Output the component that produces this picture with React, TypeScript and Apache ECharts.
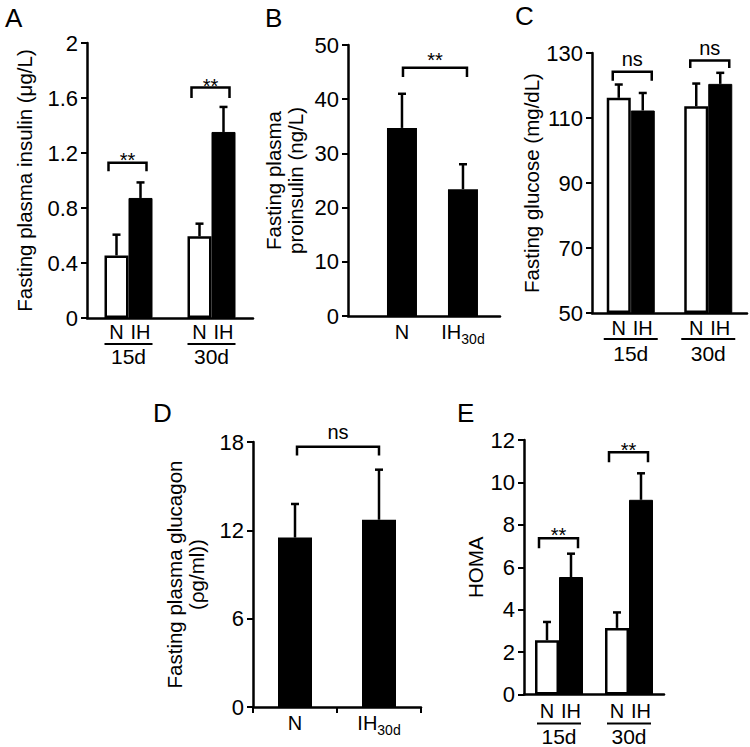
import React, { useEffect, useRef } from 'react';
import * as echarts from 'echarts';

const FONT = '"Liberation Sans", Arial, Helvetica, sans-serif';

// ---------- shared categories ----------
const periods = ['15d', '30d'];
const groupNames = ['N', 'IH'];

// ---------- Panel A: fasting plasma insulin (µg/L) ----------
const insulinN = [0.455, 0.594];
const insulinNUpper = [0.606, 0.686];
const insulinIH = [0.873, 1.353];
const insulinIHUpper = [0.986, 1.535];
const insulinSig = ['**', '**'];
const insulinSigTop = [1.13, 1.677];
const insulinSigLeg = [1.067, 1.6];
const insulinSigText = [1.151, 1.684];

// ---------- Panel B: fasting plasma proinsulin (ng/L) ----------
const proCats = ['N', 'IH30d'];
const proMean = [34.7, 23.4];
const proUpper = [41.0, 28.0];
const proSig = ['**'];
const proSigTop = [45.8];
const proSigLeg = [44.1];
const proSigText = [47.2];

// ---------- Panel C: fasting glucose (mg/dL) ----------
const glucoseN = [116.2, 113.6];
const glucoseNUpper = [120.3, 120.6];
const glucoseIH = [112.3, 120.5];
const glucoseIHUpper = [117.7, 123.9];
const glucoseSig = ['ns', 'ns'];
const glucoseSigTop = [124.2, 127.7];
const glucoseSigLeg = [121.5, 125.4];
const glucoseSigText = [128.1, 131.6];

// ---------- Panel D: fasting plasma glucagon (pg/ml) ----------
const glucagonCats = ['N', 'IH30d'];
const glucagonMean = [11.51, 12.72];
const glucagonUpper = [13.79, 16.12];
const glucagonSig = ['ns'];
const glucagonSigTop = [17.67];
const glucagonSigLeg = [17.08];
const glucagonSigText = [18.68];

// ---------- Panel E: HOMA ----------
const homaN = [2.56, 3.14];
const homaNUpper = [3.42, 3.87];
const homaIH = [5.54, 9.18];
const homaIHUpper = [6.64, 10.43];
const homaSig = ['**', '**'];
const homaSigTop = [7.37, 11.42];
const homaSigLeg = [6.9, 10.95];
const homaSigText = [7.53, 11.55];

// ---------- helpers ----------
const subFmt = (name: string) => {
  const m = /^(\D+)(\d+d)$/.exec(name);
  return m ? `{m|${m[1]}}{s|${m[2]}}` : `{m|${name}}`;
};
const subRich = {
  m: { fontSize: 20, lineHeight: 21, verticalAlign: 'top', fontFamily: FONT, color: '#000' },
  s: { fontSize: 14, lineHeight: 14, padding: [10, 0, 0, 0], verticalAlign: 'top', fontFamily: FONT, color: '#000' },
};

function yAxisFor(gridIndex: number, min: number, max: number, interval: number, name: string, nameGap: number) {
  return {
    type: 'value',
    gridIndex,
    min,
    max,
    interval,
    startValue: min,
    name,
    nameLocation: 'middle',
    nameGap,
    nameRotate: 90,
    nameTextStyle: { fontSize: 20.5, color: '#000', fontFamily: FONT, lineHeight: 22 },
    axisLine: { show: true, onZero: false, lineStyle: { color: '#000', width: 2.5 } },
    axisTick: { show: true, length: 6, lineStyle: { color: '#000', width: 2 } },
    axisLabel: { fontSize: 22, color: '#000', fontFamily: FONT, margin: 9 },
    splitLine: { show: false },
  };
}

function groupXAxis(gridIndex: number, margin: number, lineH: number, ulWidth: number) {
  return {
    type: 'category',
    gridIndex,
    data: periods,
    axisLine: { onZero: false, lineStyle: { color: '#000', width: 2.5 } },
    axisTick: { show: false },
    axisLabel: {
      interval: 0,
      margin,
      formatter: (v: string) => `{u|}\n{t|${v}}`,
      rich: {
        u: { width: ulWidth, height: 2, lineHeight: 2, backgroundColor: '#000' },
        t: { fontSize: 21, lineHeight: lineH, color: '#000', fontFamily: FONT },
      },
    },
    splitLine: { show: false },
  };
}

function groupBars(axisIndex: number, nVals: number[], ihVals: number[], labelDist: number, barWidth: number) {
  const lbl = {
    show: true,
    position: 'bottom',
    distance: labelDist,
    formatter: '{a}',
    fontSize: 20,
    lineHeight: 20,
    color: '#000',
    fontFamily: FONT,
  };
  return [
    {
      type: 'bar',
      name: groupNames[0],
      xAxisIndex: axisIndex,
      yAxisIndex: axisIndex,
      data: nVals,
      barWidth,
      barGap: '0%',
      itemStyle: { color: '#fff', borderColor: '#000', borderWidth: 2.5 },
      label: lbl,
      silent: true,
    },
    {
      type: 'bar',
      name: groupNames[1],
      xAxisIndex: axisIndex,
      yAxisIndex: axisIndex,
      data: ihVals,
      barWidth,
      barGap: '0%',
      itemStyle: { color: '#000', borderColor: '#000', borderWidth: 1 },
      label: lbl,
      silent: true,
    },
  ];
}

function errorSeries(axisIndex: number, means: number[], uppers: number[], offset: number) {
  return {
    type: 'custom',
    xAxisIndex: axisIndex,
    yAxisIndex: axisIndex,
    data: means.map((m, i) => [i, m, uppers[i]]),
    encode: { x: 0, y: [1, 2] },
    z: 5,
    silent: true,
    renderItem: (params: any, api: any) => {
      const base = api.coord([api.value(0), api.value(1)]);
      const top = api.coord([api.value(0), api.value(2)]);
      const x = base[0] + offset;
      return {
        type: 'group',
        children: [
          { type: 'line', shape: { x1: x, y1: base[1], x2: x, y2: top[1] }, style: { stroke: '#000', lineWidth: 2.5 } },
          { type: 'line', shape: { x1: x - 4, y1: top[1], x2: x + 4, y2: top[1] }, style: { stroke: '#000', lineWidth: 2.5 } },
        ],
      };
    },
  };
}

function sigSeries(
  axisIndex: number,
  starts: number[],
  ends: number[],
  tops: number[],
  legs: number[],
  textYs: number[],
  labels: string[],
  offA: number,
  offB: number,
) {
  return {
    type: 'custom',
    xAxisIndex: axisIndex,
    yAxisIndex: axisIndex,
    data: labels.map((_, i) => [starts[i], ends[i], tops[i], legs[i], textYs[i]]),
    encode: { x: [0, 1], y: [2, 3, 4] },
    z: 5,
    silent: true,
    renderItem: (params: any, api: any) => {
      const pa = api.coord([api.value(0), api.value(2)]);
      const pb = api.coord([api.value(1), api.value(2)]);
      const yl = api.coord([api.value(0), api.value(3)])[1];
      const ty = api.coord([api.value(0), api.value(4)])[1];
      const xa = pa[0] + offA;
      const xb = pb[0] + offB;
      const yt = pa[1];
      return {
        type: 'group',
        children: [
          {
            type: 'polyline',
            shape: { points: [[xa, yl], [xa, yt], [xb, yt], [xb, yl]] },
            style: { stroke: '#000', lineWidth: 2.5, fill: 'none' },
          },
          {
            type: 'text',
            x: (xa + xb) / 2,
            y: ty,
            style: {
              text: labels[params.dataIndex],
              fontSize: 20,
              fontFamily: FONT,
              fill: '#000',
              align: 'center',
              verticalAlign: 'middle',
            },
          },
        ],
      };
    },
  };
}

const panelLetter = (text: string, left: number, top: number) => ({
  type: 'text',
  left,
  top,
  style: { text, fontSize: 26, fill: '#000', fontFamily: FONT },
});

export default function App() {
  const ref = useRef<HTMLDivElement>(null);

  useEffect(() => {
    if (!ref.current) return;
    const chart = echarts.init(ref.current, undefined, { renderer: 'svg' });

    const option: any = {
      animation: false,
      backgroundColor: '#fff',
      grid: [
        { left: 87, top: 43, width: 166, height: 275 },
        { left: 348, top: 45, width: 152, height: 271 },
        { left: 592, top: 53, width: 155, height: 260 },
        { left: 253, top: 442, width: 168, height: 265 },
        { left: 524, top: 440, width: 140, height: 255 },
      ],
      xAxis: [
        groupXAxis(0, 25, 22, 48),
        {
          type: 'value',
          gridIndex: 1,
          min: -0.885,
          max: 1.607,
          axisLine: { show: true, onZero: false, lineStyle: { color: '#000', width: 2.5 } },
          axisTick: { show: false },
          axisLabel: { show: false },
          splitLine: { show: false },
        },
        groupXAxis(2, 25, 27, 54),
        {
          type: 'category',
          gridIndex: 3,
          data: glucagonCats,
          axisLine: { onZero: false, lineStyle: { color: '#000', width: 2.5 } },
          axisTick: { show: true, length: 6, lineStyle: { color: '#000', width: 2 } },
          axisLabel: { interval: 0, margin: 6, formatter: (v: string) => subFmt(v), rich: subRich },
          splitLine: { show: false },
        },
        groupXAxis(4, 28, 24, 44),
      ],
      yAxis: [
        yAxisFor(0, 0, 2, 0.4, 'Fasting plasma insulin (μg/L)', 52),
        yAxisFor(1, 0, 50, 10, 'Fasting plasma\nproinsulin (ng/L)', 42),
        yAxisFor(2, 50, 130, 20, 'Fasting glucose (mg/dL)', 45),
        yAxisFor(3, 0, 18, 6, 'Fasting plasma glucagon\n(ρg/ml))', 46),
        yAxisFor(4, 0, 12, 2, 'HOMA', 36),
      ],
      series: [
        // A
        ...groupBars(0, insulinN, insulinIH, 4, 24),
        errorSeries(0, insulinN, insulinNUpper, -12),
        errorSeries(0, insulinIH, insulinIHUpper, 12),
        sigSeries(0, [0, 1], [0, 1], insulinSigTop, insulinSigLeg, insulinSigText, insulinSig, -20, 18),
        // B
        {
          type: 'bar',
          xAxisIndex: 1,
          yAxisIndex: 1,
          barWidth: 30,
          data: proMean.map((v, i) => ({ name: proCats[i], value: [i, v] })),
          itemStyle: { color: '#000' },
          label: {
            show: true,
            position: 'bottom',
            distance: 6,
            formatter: (p: any) => subFmt(p.name),
            rich: subRich,
          },
          silent: true,
        },
        errorSeries(1, proMean, proUpper, 0),
        sigSeries(1, [0], [1], proSigTop, proSigLeg, proSigText, proSig, 1, 4),
        // C
        ...groupBars(2, glucoseN, glucoseIH, 5, 24),
        errorSeries(2, glucoseN, glucoseNUpper, -12),
        errorSeries(2, glucoseIH, glucoseIHUpper, 12),
        sigSeries(2, [0, 1], [0, 1], glucoseSigTop, glucoseSigLeg, glucoseSigText, glucoseSig, -18, 21),
        // D
        {
          type: 'bar',
          xAxisIndex: 3,
          yAxisIndex: 3,
          barWidth: 34,
          data: glucagonMean,
          itemStyle: { color: '#000' },
          silent: true,
        },
        errorSeries(3, glucagonMean, glucagonUpper, 0),
        sigSeries(3, [0], [1], glucagonSigTop, glucagonSigLeg, glucagonSigText, glucagonSig, 2, 0),
        // E
        ...groupBars(4, homaN, homaIH, 6, 24),
        errorSeries(4, homaN, homaNUpper, -12),
        errorSeries(4, homaIH, homaIHUpper, 12),
        sigSeries(4, [0, 1], [0, 1], homaSigTop, homaSigLeg, homaSigText, homaSig, -20, 19),
      ],
      graphic: [
        panelLetter('A', 5, 5),
        panelLetter('B', 265, 5),
        panelLetter('C', 515, 3),
        panelLetter('D', 153, 400),
        panelLetter('E', 457, 400),
      ],
    };

    chart.setOption(option);
    return () => chart.dispose();
  }, []);

  return (
    <div
      ref={ref}
      style={{ position: 'absolute', left: 0, top: 0, width: 750, height: 747, background: '#fff' }}
    />
  );
}
